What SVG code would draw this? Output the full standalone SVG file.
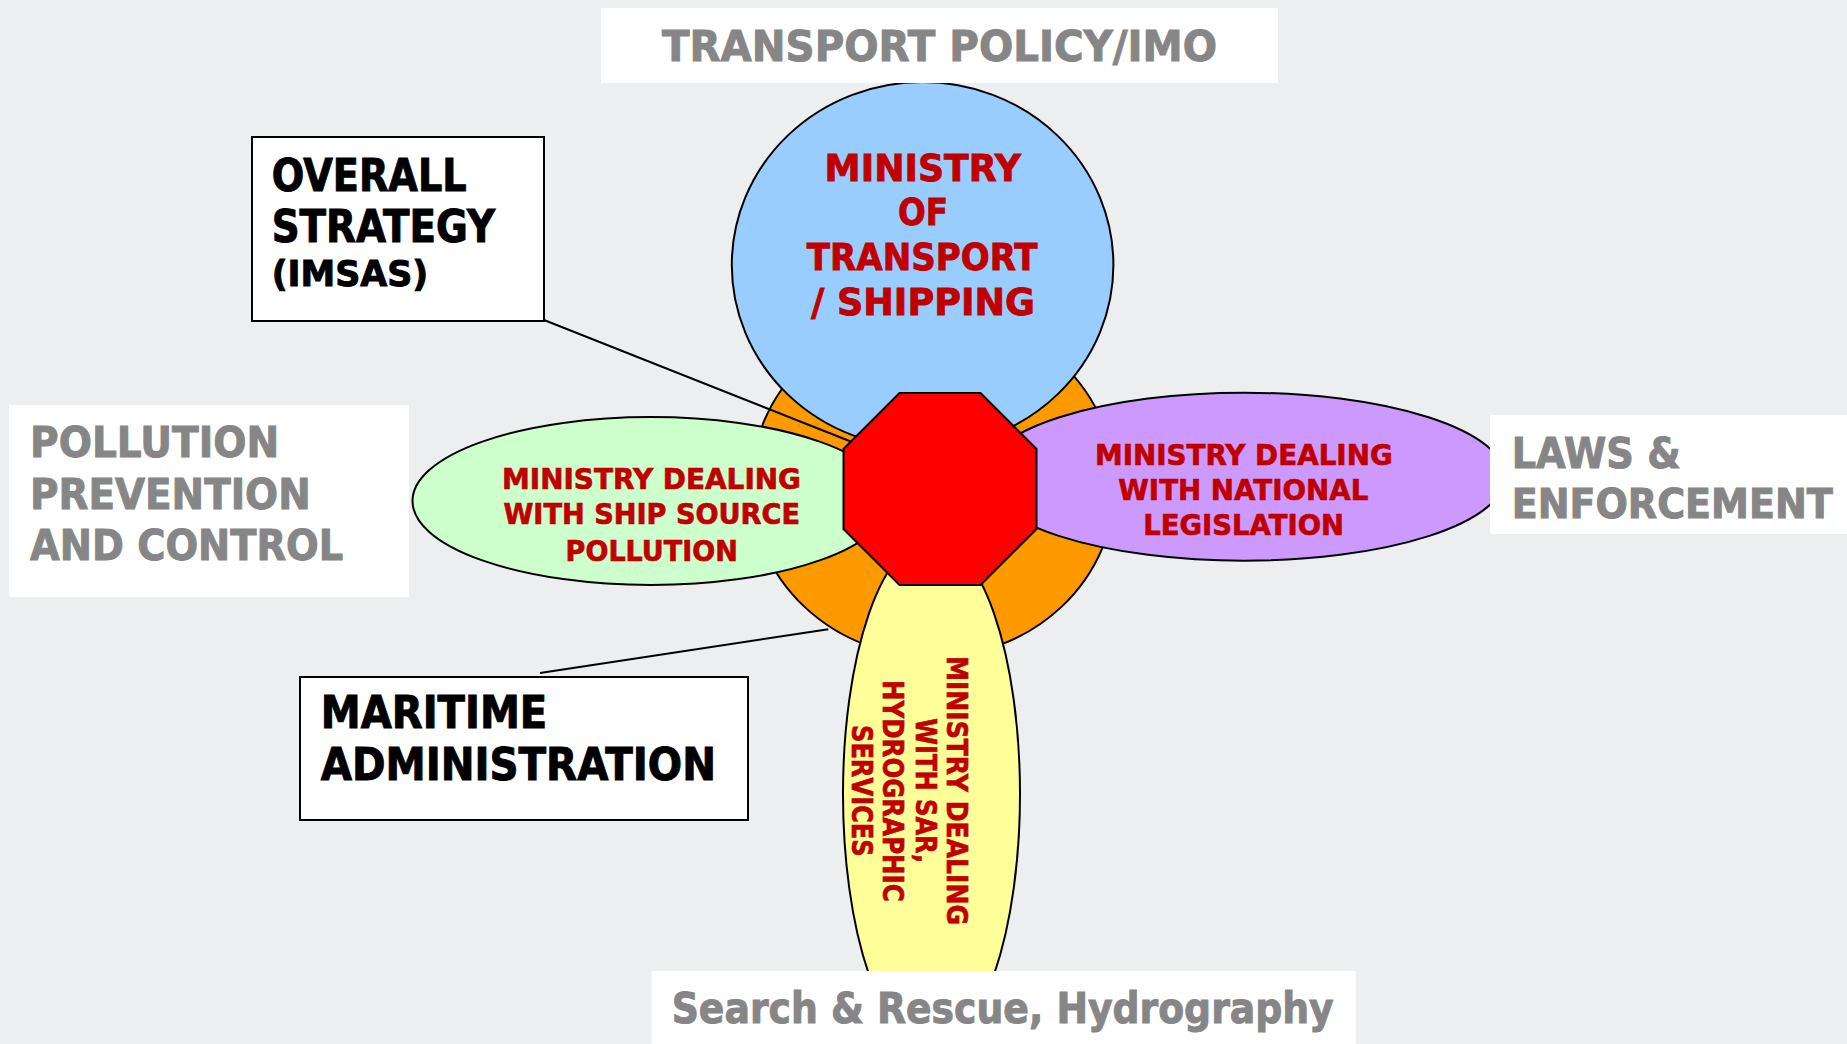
<svg xmlns="http://www.w3.org/2000/svg" width="1847" height="1044" viewBox="0 0 1847 1044">
<style>
text{font-family:"DejaVu Sans","Liberation Sans",sans-serif;font-weight:bold;}
.shape{stroke:#000;stroke-width:2;}
.box{fill:#fff;stroke:#000;stroke-width:2;}
.plain{fill:#fff;stroke:none;}
.gray{fill:#868686;stroke:#868686;stroke-width:1;font-size:43px;}
.black{fill:#000;stroke:#000;stroke-width:1;font-size:44px;}
.red{fill:#C00000;stroke:#C00000;stroke-width:0.7;font-size:29px;}
.redbig{fill:#C00000;stroke:#C00000;stroke-width:0.9;font-size:38px;}
.conn{stroke:#000;stroke-width:2;fill:none;}
</style>
<rect x="0" y="0" width="1847" height="1044" fill="#EDEEF0"/>

<g id="hub-ring">
<ellipse class="shape" cx="933" cy="485" rx="182" ry="172" fill="#FF9900"/>
</g>

<g id="ministry-transport">
<ellipse class="shape" cx="922.6" cy="265" rx="190.8" ry="183" fill="#99CCFF"/>
<text class="redbig" x="824.6" y="181" textLength="196.4" lengthAdjust="spacingAndGlyphs">MINISTRY</text>
<text class="redbig" x="898" y="225" textLength="50" lengthAdjust="spacingAndGlyphs">OF</text>
<text class="redbig" x="806.8" y="270" textLength="230.8" lengthAdjust="spacingAndGlyphs">TRANSPORT</text>
<text class="redbig" x="811" y="315" textLength="224" lengthAdjust="spacingAndGlyphs">/ SHIPPING</text>
</g>

<g id="ministry-pollution">
<ellipse class="shape" cx="651" cy="501" rx="238.5" ry="84" fill="#CCFFCC"/>
<text class="red" x="502" y="489.3" textLength="299" lengthAdjust="spacingAndGlyphs">MINISTRY DEALING</text>
<text class="red" x="503.4" y="524.3" textLength="296.6" lengthAdjust="spacingAndGlyphs">WITH SHIP SOURCE</text>
<text class="red" x="565.6" y="560.7" textLength="172.3" lengthAdjust="spacingAndGlyphs">POLLUTION</text>
</g>

<g id="ministry-legislation">
<ellipse class="shape" cx="1244" cy="476.7" rx="261" ry="84" fill="#CC99FF"/>
<text class="red" x="1095" y="465" textLength="297.7" lengthAdjust="spacingAndGlyphs">MINISTRY DEALING</text>
<text class="red" x="1118.3" y="500" textLength="250" lengthAdjust="spacingAndGlyphs">WITH NATIONAL</text>
<text class="red" x="1143.3" y="535" textLength="200.7" lengthAdjust="spacingAndGlyphs">LEGISLATION</text>
</g>

<g id="ministry-sar">
<ellipse class="shape" cx="931.5" cy="794" rx="88.5" ry="255" fill="#FFFF99"/>
<text class="red" transform="translate(947.3,656) rotate(90)" x="0" y="0" textLength="269" lengthAdjust="spacingAndGlyphs">MINISTRY DEALING</text>
<text class="red" transform="translate(915.5,718.3) rotate(90)" x="0" y="0" textLength="145" lengthAdjust="spacingAndGlyphs">WITH SAR,</text>
<text class="red" transform="translate(883.4,680) rotate(90)" x="0" y="0" textLength="221.7" lengthAdjust="spacingAndGlyphs">HYDROGRAPHIC</text>
<text class="red" transform="translate(851.7,725) rotate(90)" x="0" y="0" textLength="131.7" lengthAdjust="spacingAndGlyphs">SERVICES</text>
</g>

<g id="connectors">
<line class="conn" x1="544" y1="320" x2="852" y2="442"/>
<line class="conn" x1="540" y1="673" x2="828.3" y2="629.3"/>
</g>

<g id="hub">
<polygon class="shape" fill="#FF0000" points="899.5,393 980.5,393 1036.5,449 1036.5,529 980.5,585 899.5,585 843.5,529 843.5,449"/>
</g>

<g id="transport-policy">
<rect class="plain" x="601" y="8" width="677" height="75"/>
<text class="gray" x="662" y="61" font-size="42" textLength="555" lengthAdjust="spacingAndGlyphs">TRANSPORT POLICY/IMO</text>
</g>

<g id="overall-strategy">
<rect class="box" x="252" y="137" width="292" height="184"/>
<text class="black" x="271.7" y="190.7" textLength="195" lengthAdjust="spacingAndGlyphs">OVERALL</text>
<text class="black" x="271.7" y="241.7" textLength="223.3" lengthAdjust="spacingAndGlyphs">STRATEGY</text>
<text class="black" x="271.7" y="285.7" style="font-size:36px" textLength="156.6" lengthAdjust="spacingAndGlyphs">(IMSAS)</text>
</g>

<g id="pollution-prevention">
<rect class="plain" x="9" y="405" width="400" height="192"/>
<text class="gray" x="30" y="457.3" textLength="249.3" lengthAdjust="spacingAndGlyphs">POLLUTION</text>
<text class="gray" x="30" y="509" textLength="280.7" lengthAdjust="spacingAndGlyphs">PREVENTION</text>
<text class="gray" x="30" y="560" textLength="313.3" lengthAdjust="spacingAndGlyphs">AND CONTROL</text>
</g>

<g id="laws-enforcement">
<rect class="plain" x="1490" y="415" width="357" height="119"/>
<text class="gray" x="1511.7" y="468.3" textLength="169" lengthAdjust="spacingAndGlyphs">LAWS &amp;</text>
<text class="gray" x="1511.7" y="518.3" style="font-size:40px" textLength="321" lengthAdjust="spacingAndGlyphs">ENFORCEMENT</text>
</g>

<g id="maritime-administration">
<rect class="box" x="300" y="677" width="448" height="143"/>
<text class="black" x="320.7" y="728.3" textLength="226.6" lengthAdjust="spacingAndGlyphs">MARITIME</text>
<text class="black" x="320.7" y="780" textLength="395.3" lengthAdjust="spacingAndGlyphs">ADMINISTRATION</text>
</g>

<g id="search-rescue">
<rect class="plain" x="651.7" y="971" width="704" height="73"/>
<text class="gray" x="671.7" y="1023.3" textLength="662" lengthAdjust="spacingAndGlyphs">Search &amp; Rescue, Hydrography</text>
</g>
</svg>
